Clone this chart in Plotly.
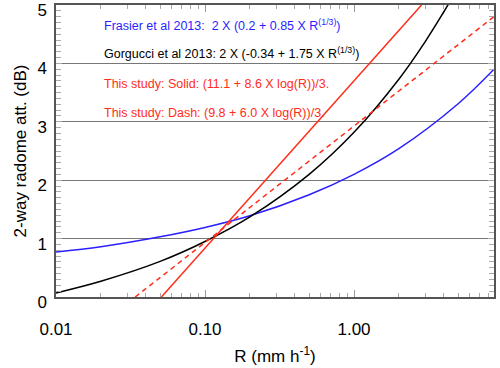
import plotly.graph_objects as go

# values
r_blue = [0.01, 0.02, 0.05, 0.1, 0.2, 0.5, 1, 2, 5, 8.7]
att_blue = [0.77, 0.86, 1.03, 1.19, 1.39, 1.75, 2.10, 2.54, 3.31, 3.90]

r_black = [0.01, 0.02, 0.05, 0.1, 0.2, 0.5, 1, 2, 3, 4, 4.5]
att_black = [0.07, 0.27, 0.61, 0.95, 1.37, 2.10, 2.82, 3.73, 4.37, 4.88, 5.10]

r_solid = [0.051, 2.84]
att_solid = [0.0, 5.0]

r_dash = [0.034, 8.7]
att_dash = [0.0, 4.80]

x_ticks = [0.01, 0.1, 1]
x_labels = ["0.01", "0.10", "1.00"]
x_minor = [0.02, 0.03, 0.04, 0.05, 0.06, 0.07, 0.08, 0.09,
           0.2, 0.3, 0.4, 0.5, 0.6, 0.7, 0.8, 0.9,
           2, 3, 4, 5, 6, 7, 8]
y_ticks = [0, 1, 2, 3, 4, 5]

BLUE = "#2b1fff"
RED = "#ff2d1a"

labels = [
    ("Frasier et al 2013:  2 X (0.2 + 0.85 X R<sup>(1/3)</sup>)", BLUE),
    ("Gorgucci et al 2013: 2 X (-0.34 + 1.75 X R<sup>(1/3)</sup>)", "black"),
    ("This study: Solid: (11.1 + 8.6 X log(R))/3.", RED),
    ("This study: Dash: (9.8 + 6.0 X log(R))/3.", RED),
]
label_y = [0.932, 0.836, 0.729, 0.630]

fig = go.Figure()
fig.add_trace(go.Scatter(x=r_blue, y=att_blue, mode="lines",
                         line=dict(color=BLUE, width=1.5, shape="spline")))
fig.add_trace(go.Scatter(x=r_black, y=att_black, mode="lines",
                         line=dict(color="black", width=1.5, shape="spline")))
fig.add_trace(go.Scatter(x=r_solid, y=att_solid, mode="lines",
                         line=dict(color=RED, width=1.5)))
fig.add_trace(go.Scatter(x=r_dash, y=att_dash, mode="lines",
                         line=dict(color=RED, width=1.5, dash="5px,4px")))

for (txt, col), yy in zip(labels, label_y):
    fig.add_annotation(text=txt, xref="paper", yref="paper", x=0.105, y=yy,
                       xanchor="left", yanchor="middle", showarrow=False,
                       font=dict(color=col, size=12.5))

fig.update_xaxes(type="log", range=[-2, 0.9396], automargin=False,
                 tickvals=x_ticks, ticktext=x_labels,
                 ticks="inside", ticklen=7, tickcolor="#999",
                 minor=dict(tickvals=x_minor, ticks="inside", ticklen=4, tickcolor="#aaa"),
                 showgrid=False, zeroline=False,
                 showline=True, linecolor="#555", linewidth=1.5, mirror="ticks",
                 tickfont=dict(size=17, color="black"), ticklabelstandoff=16,
                 title=dict(text="R (mm h<sup>-1</sup>)", font=dict(size=17, color="black"),
                            standoff=12))
fig.update_yaxes(range=[0, 5], tickvals=y_ticks, automargin=False,
                 ticks="inside", ticklen=6, tickcolor="#aaa",
                 minor=dict(dtick=0.1, ticks="inside", ticklen=5, tickcolor="#aaa", showgrid=False),
                 showgrid=True, gridcolor="#777", gridwidth=1.2, zeroline=False,
                 showline=True, linecolor="#555", linewidth=1.5, mirror="ticks",
                 tickfont=dict(size=17, color="black"), ticklabelstandoff=4,
                 ticklabelshift=5, ticklabeloverflow="allow",
                 title=dict(text="2-way radome att. (dB)", font=dict(size=17, color="black"),
                            standoff=6))

fig.update_layout(width=500, height=368, showlegend=False,
                  margin=dict(l=56, r=6, t=5, b=71),
                  paper_bgcolor="white", plot_bgcolor="white",
                  font=dict(family="Liberation Sans, Arial, sans-serif"))

# the page body has a default 8px margin; drop it so the chart fills the window
fig.write_html("out.html", config={"displayModeBar": False},
               post_script="document.body.style.margin='0';")
